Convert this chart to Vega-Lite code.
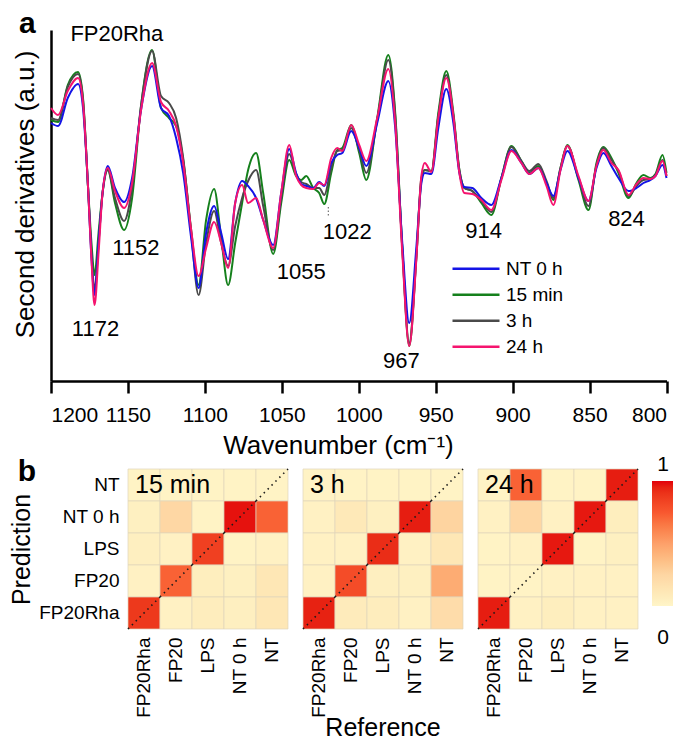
{
  "$schema": "https://vega.github.io/schema/vega-lite/v6.json",
  "padding": {"left": 9, "top": 8, "right": 0, "bottom": 0},
  "config": {
    "font": "Liberation Sans",
    "view": {"stroke": null},
    "axis": {"labelColor": "black", "titleColor": "black", "grid": false},
    "legend": {"labelColor": "black"},
    "header": {"titleColor": "black"},
    "title": {"color": "black"}
  },
  "columns": 1,
  "align": "none",
  "spacing": -1,
  "concat": [
    {
      "title": {"text": "a", "anchor": "start", "frame": "bounds", "fontSize": 30, "fontWeight": "bold", "dx": 7, "dy": 16, "offset": 0},
      "width": 538.5,
      "height": 351,
      "layer": [
        {
          "data": {"name": "spec"},
          "mark": {"type": "line", "interpolate": "monotone", "strokeWidth": 2},
          "encoding": {
            "x": {
              "field": "w", "type": "quantitative",
              "scale": {"domain": [1200, 800], "range": [-77, 538.5], "nice": false, "zero": false},
              "axis": {
                "title": "Wavenumber (cm⁻¹)",
                "values": [1200, 1175, 1150, 1125, 1100, 1075, 1050, 1025, 1000, 975, 950, 925, 900, 875, 850, 825, 800],
                "format": "d",
                "labelExpr": "datum.value % 50 === 0 ? datum.label : ''",
                "labelOverlap": false,
                "tickSize": 12, "tickWidth": 2.5, "tickColor": "black",
                "domainColor": "black", "domainWidth": 2.5,
                "labelFontSize": 21, "labelPadding": 11,
                "titleFontSize": 26, "titleFontWeight": "normal", "titlePadding": 7, "titleX": 210,
                "encode": {
                  "ticks": {"update": {"y2": {"signal": "datum.value % 50 === 0 ? 12 : 6"}}},
                  "labels": {"update": {"align": {"signal": "datum.value === 800 ? 'right' : 'center'"}, "dx": {"signal": "datum.value === 800 ? 7 : 0"}}}
                }
              }
            },
            "y": {
              "field": "v", "type": "quantitative",
              "scale": {"domain": [-183, 168], "nice": false, "zero": false},
              "axis": {
                "title": "Second derivatives (a.u.)",
                "labels": false, "ticks": false, "grid": false, "offset": 77,
                "domainColor": "black", "domainWidth": 2.5,
                "titleFontSize": 26, "titleFontWeight": "normal", "titlePadding": 13, "titleY": 164
              }
            },
            "color": {
              "field": "s", "type": "nominal",
              "scale": {"domain": ["NT 0 h", "15 min", "3 h", "24 h"], "range": ["#1414e6", "#15801c", "#4a4a4a", "#f5146e"]},
              "legend": {
                "orient": "none", "legendX": 323, "legendY": 227, "title": null,
                "symbolType": "stroke", "symbolSize": 2209, "symbolStrokeWidth": 2.5,
                "clipHeight": 23.5, "rowPadding": 2, "labelFontSize": 19, "labelOffset": 5, "padding": 0
              }
            }
          }
        },
        {
          "data": {"name": "ann"},
          "mark": {"type": "text", "fontSize": 22, "baseline": "middle", "align": "center", "color": "black"},
          "encoding": {
            "x": {"field": "w", "type": "quantitative"},
            "y": {"field": "v", "type": "quantitative"},
            "text": {"field": "t"}
          }
        },
        {
          "data": {"name": "tickmark"},
          "mark": {"type": "rule", "strokeDash": [1.5, 2], "color": "#555555", "strokeWidth": 1},
          "encoding": {
            "x": {"field": "w", "type": "quantitative"},
            "y": {"field": "v1", "type": "quantitative"},
            "y2": {"field": "v2"}
          }
        }
      ]
    },
    {
      "title": {"text": "b", "anchor": "start", "frame": "bounds", "fontSize": 30, "fontWeight": "bold", "dx": 8, "dy": 19, "offset": 0},
      "data": {"name": "conf"},
      "facet": {
        "column": {
          "field": "time", "type": "nominal", "sort": ["15 min", "3 h", "24 h"], "title": "Reference",
          "header": {"labels": false, "titleOrient": "bottom", "titleFontSize": 25, "titleFontWeight": "normal", "titlePadding": -12}
        }
      },
      "spacing": 13,
      "spec": {
        "width": 160,
        "height": 160,
        "layer": [
          {
            "mark": {"type": "rect", "stroke": "#e0d6bc", "strokeWidth": 0.7},
            "encoding": {
              "x": {
                "field": "reference", "type": "nominal",
                "scale": {"domain": ["FP20Rha", "FP20", "LPS", "NT 0 h", "NT"], "padding": 0},
                "axis": {"title": null, "labelAngle": -90, "labelFontSize": 19, "ticks": false, "domain": false, "labelPadding": 7}
              },
              "y": {
                "field": "prediction", "type": "nominal",
                "scale": {"domain": ["NT", "NT 0 h", "LPS", "FP20", "FP20Rha"], "padding": 0},
                "axis": {"title": "Prediction", "titleFontSize": 25, "titleFontWeight": "normal", "labelFontSize": 19, "ticks": false, "domain": false, "labelPadding": 8, "titlePadding": 4}
              },
              "color": {
                "field": "value", "type": "quantitative",
                "scale": {"domain": [0, 0.25, 0.5, 0.75, 1], "range": ["#fff5c8", "#fed6a3", "#fda06a", "#f8572f", "#e3000b"]},
                "legend": {
                  "title": null, "orient": "right", "offset": 13, "padding": 0,
                  "gradientLength": 125, "gradientThickness": 22, "gradientStrokeWidth": 0,
                  "values": [0, 1], "format": "d", "labelFontSize": 21, "labelOffset": -11, "labelOverlap": false,
                  "encode": {
                    "gradient": {"update": {"y": {"value": 12}}},
                    "labels": {"update": {
                      "align": {"value": "center"},
                      "baseline": {"signal": "datum.value > 0.5 ? 'bottom' : 'top'"},
                      "dy": {"signal": "datum.value > 0.5 ? 6 : 33"}
                    }}
                  }
                }
              }
            }
          },
          {
            "transform": [{"filter": "datum.reference === datum.prediction"}],
            "mark": {"type": "rule", "strokeDash": [1.5, 4], "color": "#1a1a1a", "strokeWidth": 1.6},
            "encoding": {
              "x": {"field": "reference", "type": "nominal", "bandPosition": 0},
              "x2": {"field": "reference", "bandPosition": 1},
              "y": {"field": "prediction", "type": "nominal", "bandPosition": 1},
              "y2": {"field": "prediction", "bandPosition": 0}
            }
          },
          {
            "transform": [{"filter": "datum.reference === 'FP20Rha' && datum.prediction === 'NT'"}],
            "mark": {"type": "text", "align": "left", "baseline": "middle", "dx": 7, "fontSize": 25, "color": "black"},
            "encoding": {
              "x": {"field": "reference", "type": "nominal", "bandPosition": 0},
              "y": {"field": "prediction", "type": "nominal"},
              "text": {"field": "time"}
            }
          }
        ]
      }
    }
  ],
  "datasets": {
    "ann": [
      {"w": 1157.2, "v": 164.5, "t": "FP20Rha"},
      {"w": 1171.1, "v": -131, "t": "1172"},
      {"w": 1144.9, "v": -50, "t": "1152"},
      {"w": 1037.4, "v": -74, "t": "1055"},
      {"w": 1007.5, "v": -33.5, "t": "1022"},
      {"w": 972.3, "v": -162.5, "t": "967"},
      {"w": 918.9, "v": -33, "t": "914"},
      {"w": 826, "v": -21, "t": "824"}
    ],
    "tickmark": [{"w": 1019.8, "v1": -9, "v2": -18}],
    "conf": [
      {"time": "15 min", "prediction": "NT", "reference": "FP20Rha", "value": 0.02},
      {"time": "15 min", "prediction": "NT", "reference": "FP20", "value": 0.02},
      {"time": "15 min", "prediction": "NT", "reference": "LPS", "value": 0.02},
      {"time": "15 min", "prediction": "NT", "reference": "NT 0 h", "value": 0.02},
      {"time": "15 min", "prediction": "NT", "reference": "NT", "value": 0.02},
      {"time": "15 min", "prediction": "NT 0 h", "reference": "FP20Rha", "value": 0.04},
      {"time": "15 min", "prediction": "NT 0 h", "reference": "FP20", "value": 0.24},
      {"time": "15 min", "prediction": "NT 0 h", "reference": "LPS", "value": 0.02},
      {"time": "15 min", "prediction": "NT 0 h", "reference": "NT 0 h", "value": 0.98},
      {"time": "15 min", "prediction": "NT 0 h", "reference": "NT", "value": 0.72},
      {"time": "15 min", "prediction": "LPS", "reference": "FP20Rha", "value": 0.05},
      {"time": "15 min", "prediction": "LPS", "reference": "FP20", "value": 0.03},
      {"time": "15 min", "prediction": "LPS", "reference": "LPS", "value": 0.85},
      {"time": "15 min", "prediction": "LPS", "reference": "NT 0 h", "value": 0.02},
      {"time": "15 min", "prediction": "LPS", "reference": "NT", "value": 0.03},
      {"time": "15 min", "prediction": "FP20", "reference": "FP20Rha", "value": 0.03},
      {"time": "15 min", "prediction": "FP20", "reference": "FP20", "value": 0.72},
      {"time": "15 min", "prediction": "FP20", "reference": "LPS", "value": 0.06},
      {"time": "15 min", "prediction": "FP20", "reference": "NT 0 h", "value": 0.04},
      {"time": "15 min", "prediction": "FP20", "reference": "NT", "value": 0.12},
      {"time": "15 min", "prediction": "FP20Rha", "reference": "FP20Rha", "value": 0.88},
      {"time": "15 min", "prediction": "FP20Rha", "reference": "FP20", "value": 0.03},
      {"time": "15 min", "prediction": "FP20Rha", "reference": "LPS", "value": 0.07},
      {"time": "15 min", "prediction": "FP20Rha", "reference": "NT 0 h", "value": 0.05},
      {"time": "15 min", "prediction": "FP20Rha", "reference": "NT", "value": 0.12},
      {"time": "3 h", "prediction": "NT", "reference": "FP20Rha", "value": 0.02},
      {"time": "3 h", "prediction": "NT", "reference": "FP20", "value": 0.02},
      {"time": "3 h", "prediction": "NT", "reference": "LPS", "value": 0.02},
      {"time": "3 h", "prediction": "NT", "reference": "NT 0 h", "value": 0.02},
      {"time": "3 h", "prediction": "NT", "reference": "NT", "value": 0.02},
      {"time": "3 h", "prediction": "NT 0 h", "reference": "FP20Rha", "value": 0.03},
      {"time": "3 h", "prediction": "NT 0 h", "reference": "FP20", "value": 0.1},
      {"time": "3 h", "prediction": "NT 0 h", "reference": "LPS", "value": 0.04},
      {"time": "3 h", "prediction": "NT 0 h", "reference": "NT 0 h", "value": 0.96},
      {"time": "3 h", "prediction": "NT 0 h", "reference": "NT", "value": 0.26},
      {"time": "3 h", "prediction": "LPS", "reference": "FP20Rha", "value": 0.03},
      {"time": "3 h", "prediction": "LPS", "reference": "FP20", "value": 0.03},
      {"time": "3 h", "prediction": "LPS", "reference": "LPS", "value": 0.92},
      {"time": "3 h", "prediction": "LPS", "reference": "NT 0 h", "value": 0.03},
      {"time": "3 h", "prediction": "LPS", "reference": "NT", "value": 0.12},
      {"time": "3 h", "prediction": "FP20", "reference": "FP20Rha", "value": 0.03},
      {"time": "3 h", "prediction": "FP20", "reference": "FP20", "value": 0.8},
      {"time": "3 h", "prediction": "FP20", "reference": "LPS", "value": 0.05},
      {"time": "3 h", "prediction": "FP20", "reference": "NT 0 h", "value": 0.04},
      {"time": "3 h", "prediction": "FP20", "reference": "NT", "value": 0.45},
      {"time": "3 h", "prediction": "FP20Rha", "reference": "FP20Rha", "value": 0.95},
      {"time": "3 h", "prediction": "FP20Rha", "reference": "FP20", "value": 0.08},
      {"time": "3 h", "prediction": "FP20Rha", "reference": "LPS", "value": 0.07},
      {"time": "3 h", "prediction": "FP20Rha", "reference": "NT 0 h", "value": 0.03},
      {"time": "3 h", "prediction": "FP20Rha", "reference": "NT", "value": 0.2},
      {"time": "24 h", "prediction": "NT", "reference": "FP20Rha", "value": 0.02},
      {"time": "24 h", "prediction": "NT", "reference": "FP20", "value": 0.72},
      {"time": "24 h", "prediction": "NT", "reference": "LPS", "value": 0.02},
      {"time": "24 h", "prediction": "NT", "reference": "NT 0 h", "value": 0.02},
      {"time": "24 h", "prediction": "NT", "reference": "NT", "value": 0.96},
      {"time": "24 h", "prediction": "NT 0 h", "reference": "FP20Rha", "value": 0.03},
      {"time": "24 h", "prediction": "NT 0 h", "reference": "FP20", "value": 0.24},
      {"time": "24 h", "prediction": "NT 0 h", "reference": "LPS", "value": 0.03},
      {"time": "24 h", "prediction": "NT 0 h", "reference": "NT 0 h", "value": 0.97},
      {"time": "24 h", "prediction": "NT 0 h", "reference": "NT", "value": 0.06},
      {"time": "24 h", "prediction": "LPS", "reference": "FP20Rha", "value": 0.02},
      {"time": "24 h", "prediction": "LPS", "reference": "FP20", "value": 0.03},
      {"time": "24 h", "prediction": "LPS", "reference": "LPS", "value": 0.97},
      {"time": "24 h", "prediction": "LPS", "reference": "NT 0 h", "value": 0.02},
      {"time": "24 h", "prediction": "LPS", "reference": "NT", "value": 0.04},
      {"time": "24 h", "prediction": "FP20", "reference": "FP20Rha", "value": 0.02},
      {"time": "24 h", "prediction": "FP20", "reference": "FP20", "value": 0.02},
      {"time": "24 h", "prediction": "FP20", "reference": "LPS", "value": 0.03},
      {"time": "24 h", "prediction": "FP20", "reference": "NT 0 h", "value": 0.03},
      {"time": "24 h", "prediction": "FP20", "reference": "NT", "value": 0.03},
      {"time": "24 h", "prediction": "FP20Rha", "reference": "FP20Rha", "value": 0.96},
      {"time": "24 h", "prediction": "FP20Rha", "reference": "FP20", "value": 0.03},
      {"time": "24 h", "prediction": "FP20Rha", "reference": "LPS", "value": 0.06},
      {"time": "24 h", "prediction": "FP20Rha", "reference": "NT 0 h", "value": 0.03},
      {"time": "24 h", "prediction": "FP20Rha", "reference": "NT", "value": 0.03}
    ],
    "spec": [
      {"w":1200,"s":"15 min","v":78},{"w":1195.4,"s":"15 min","v":76},{"w":1189.1,"s":"15 min","v":113},{"w":1182.4,"s":"15 min","v":126},{"w":1179.2,"s":"15 min","v":100},{"w":1175.9,"s":"15 min","v":10},{"w":1173.7,"s":"15 min","v":-45},{"w":1171.7,"s":"15 min","v":-77},{"w":1169.1,"s":"15 min","v":-35},{"w":1166.5,"s":"15 min","v":5},{"w":1163.1,"s":"15 min","v":28},{"w":1158.4,"s":"15 min","v":-5},{"w":1152.5,"s":"15 min","v":-32},{"w":1147.3,"s":"15 min","v":0},{"w":1141.5,"s":"15 min","v":92},{"w":1134.3,"s":"15 min","v":148},{"w":1128.5,"s":"15 min","v":90},{"w":1123.3,"s":"15 min","v":80},{"w":1118.7,"s":"15 min","v":72},{"w":1114.1,"s":"15 min","v":38},{"w":1108.9,"s":"15 min","v":-32},{"w":1104.1,"s":"15 min","v":-87},{"w":1099.2,"s":"15 min","v":-22},{"w":1094,"s":"15 min","v":9},{"w":1089.4,"s":"15 min","v":-40},{"w":1084.9,"s":"15 min","v":-87},{"w":1080.3,"s":"15 min","v":-45},{"w":1075.8,"s":"15 min","v":-5},{"w":1071.9,"s":"15 min","v":28},{"w":1066.7,"s":"15 min","v":45},{"w":1062.1,"s":"15 min","v":5},{"w":1055.6,"s":"15 min","v":-56},{"w":1050.4,"s":"15 min","v":-5},{"w":1045.2,"s":"15 min","v":38},{"w":1040.7,"s":"15 min","v":22},{"w":1037.4,"s":"15 min","v":18},{"w":1034.1,"s":"15 min","v":22},{"w":1029.6,"s":"15 min","v":10},{"w":1025.7,"s":"15 min","v":5},{"w":1022.4,"s":"15 min","v":-6},{"w":1017.9,"s":"15 min","v":25},{"w":1014,"s":"15 min","v":48},{"w":1010.7,"s":"15 min","v":50},{"w":1004.9,"s":"15 min","v":73},{"w":999.7,"s":"15 min","v":45},{"w":995.1,"s":"15 min","v":18},{"w":988,"s":"15 min","v":80},{"w":980.8,"s":"15 min","v":143},{"w":976.3,"s":"15 min","v":85},{"w":971.7,"s":"15 min","v":-50},{"w":967.2,"s":"15 min","v":-148},{"w":962.6,"s":"15 min","v":-60},{"w":959.3,"s":"15 min","v":20},{"w":957.1,"s":"15 min","v":28},{"w":952.8,"s":"15 min","v":27},{"w":948.3,"s":"15 min","v":85},{"w":943.1,"s":"15 min","v":127},{"w":938.5,"s":"15 min","v":85},{"w":934.6,"s":"15 min","v":28},{"w":931.4,"s":"15 min","v":10},{"w":926.2,"s":"15 min","v":7},{"w":920.3,"s":"15 min","v":-5},{"w":913.8,"s":"15 min","v":-17},{"w":907.3,"s":"15 min","v":20},{"w":900.8,"s":"15 min","v":52},{"w":894.3,"s":"15 min","v":37},{"w":889.1,"s":"15 min","v":25},{"w":883.3,"s":"15 min","v":32},{"w":878,"s":"15 min","v":15},{"w":873.5,"s":"15 min","v":-2},{"w":868.9,"s":"15 min","v":30},{"w":864.4,"s":"15 min","v":53},{"w":857.2,"s":"15 min","v":18},{"w":850.7,"s":"15 min","v":-12},{"w":845.5,"s":"15 min","v":35},{"w":841,"s":"15 min","v":51},{"w":835.8,"s":"15 min","v":40},{"w":831.2,"s":"15 min","v":25},{"w":824.7,"s":"15 min","v":0},{"w":819.5,"s":"15 min","v":15},{"w":815,"s":"15 min","v":23},{"w":810.4,"s":"15 min","v":20},{"w":807.2,"s":"15 min","v":24},{"w":802.6,"s":"15 min","v":43},{"w":800,"s":"15 min","v":25},
      {"w":1200,"s":"3 h","v":80},{"w":1195.4,"s":"3 h","v":78},{"w":1189.1,"s":"3 h","v":111},{"w":1182.4,"s":"3 h","v":124},{"w":1179.2,"s":"3 h","v":98},{"w":1175.9,"s":"3 h","v":10},{"w":1173.7,"s":"3 h","v":-55},{"w":1171.7,"s":"3 h","v":-92},{"w":1169.1,"s":"3 h","v":-45},{"w":1166.5,"s":"3 h","v":5},{"w":1163.1,"s":"3 h","v":28},{"w":1158.4,"s":"3 h","v":0},{"w":1152.5,"s":"3 h","v":-23},{"w":1147.3,"s":"3 h","v":10},{"w":1141.5,"s":"3 h","v":92},{"w":1134.3,"s":"3 h","v":147},{"w":1128.5,"s":"3 h","v":102},{"w":1123.3,"s":"3 h","v":95},{"w":1118.7,"s":"3 h","v":80},{"w":1114.1,"s":"3 h","v":40},{"w":1108.9,"s":"3 h","v":-35},{"w":1104.1,"s":"3 h","v":-97},{"w":1099.2,"s":"3 h","v":-45},{"w":1094,"s":"3 h","v":-13},{"w":1089.4,"s":"3 h","v":-45},{"w":1084.9,"s":"3 h","v":-68},{"w":1080.3,"s":"3 h","v":-28},{"w":1075.8,"s":"3 h","v":0},{"w":1071.9,"s":"3 h","v":17},{"w":1066.7,"s":"3 h","v":28},{"w":1062.1,"s":"3 h","v":-8},{"w":1055.6,"s":"3 h","v":-52},{"w":1050.4,"s":"3 h","v":0},{"w":1045.2,"s":"3 h","v":44},{"w":1040.7,"s":"3 h","v":24},{"w":1037.4,"s":"3 h","v":16},{"w":1034.1,"s":"3 h","v":14},{"w":1029.6,"s":"3 h","v":10},{"w":1025.7,"s":"3 h","v":10},{"w":1022.4,"s":"3 h","v":3},{"w":1017.9,"s":"3 h","v":30},{"w":1014,"s":"3 h","v":47},{"w":1010.7,"s":"3 h","v":48},{"w":1004.9,"s":"3 h","v":70},{"w":999.7,"s":"3 h","v":48},{"w":995.1,"s":"3 h","v":25},{"w":988,"s":"3 h","v":78},{"w":980.8,"s":"3 h","v":138},{"w":976.3,"s":"3 h","v":82},{"w":971.7,"s":"3 h","v":-50},{"w":967.2,"s":"3 h","v":-145},{"w":962.6,"s":"3 h","v":-60},{"w":959.3,"s":"3 h","v":18},{"w":957.1,"s":"3 h","v":28},{"w":952.8,"s":"3 h","v":27},{"w":948.3,"s":"3 h","v":82},{"w":943.1,"s":"3 h","v":123},{"w":938.5,"s":"3 h","v":82},{"w":934.6,"s":"3 h","v":28},{"w":931.4,"s":"3 h","v":10},{"w":926.2,"s":"3 h","v":7},{"w":920.3,"s":"3 h","v":-3},{"w":913.8,"s":"3 h","v":-14},{"w":907.3,"s":"3 h","v":20},{"w":900.8,"s":"3 h","v":51},{"w":894.3,"s":"3 h","v":37},{"w":889.1,"s":"3 h","v":27},{"w":883.3,"s":"3 h","v":34},{"w":878,"s":"3 h","v":17},{"w":873.5,"s":"3 h","v":0},{"w":868.9,"s":"3 h","v":30},{"w":864.4,"s":"3 h","v":52},{"w":857.2,"s":"3 h","v":20},{"w":850.7,"s":"3 h","v":-8},{"w":845.5,"s":"3 h","v":33},{"w":841,"s":"3 h","v":50},{"w":835.8,"s":"3 h","v":38},{"w":831.2,"s":"3 h","v":27},{"w":824.7,"s":"3 h","v":2},{"w":819.5,"s":"3 h","v":12},{"w":815,"s":"3 h","v":18},{"w":810.4,"s":"3 h","v":19},{"w":807.2,"s":"3 h","v":23},{"w":802.6,"s":"3 h","v":38},{"w":800,"s":"3 h","v":22},
      {"w":1200,"s":"NT 0 h","v":75},{"w":1195.4,"s":"NT 0 h","v":72},{"w":1189.1,"s":"NT 0 h","v":100},{"w":1182.4,"s":"NT 0 h","v":114},{"w":1179.2,"s":"NT 0 h","v":90},{"w":1175.9,"s":"NT 0 h","v":10},{"w":1173.7,"s":"NT 0 h","v":-60},{"w":1171.7,"s":"NT 0 h","v":-97},{"w":1169.1,"s":"NT 0 h","v":-45},{"w":1166.5,"s":"NT 0 h","v":5},{"w":1163.1,"s":"NT 0 h","v":32},{"w":1158.4,"s":"NT 0 h","v":10},{"w":1152.5,"s":"NT 0 h","v":-4},{"w":1147.3,"s":"NT 0 h","v":20},{"w":1141.5,"s":"NT 0 h","v":88},{"w":1134.3,"s":"NT 0 h","v":132},{"w":1128.5,"s":"NT 0 h","v":90},{"w":1123.3,"s":"NT 0 h","v":82},{"w":1118.7,"s":"NT 0 h","v":60},{"w":1114.1,"s":"NT 0 h","v":25},{"w":1108.9,"s":"NT 0 h","v":-40},{"w":1104.1,"s":"NT 0 h","v":-90},{"w":1099.2,"s":"NT 0 h","v":-35},{"w":1094,"s":"NT 0 h","v":-8},{"w":1089.4,"s":"NT 0 h","v":-35},{"w":1084.9,"s":"NT 0 h","v":-61},{"w":1080.3,"s":"NT 0 h","v":-5},{"w":1075.8,"s":"NT 0 h","v":17},{"w":1071.9,"s":"NT 0 h","v":12},{"w":1066.7,"s":"NT 0 h","v":0},{"w":1062.1,"s":"NT 0 h","v":-22},{"w":1055.6,"s":"NT 0 h","v":-47},{"w":1050.4,"s":"NT 0 h","v":5},{"w":1045.2,"s":"NT 0 h","v":49},{"w":1040.7,"s":"NT 0 h","v":25},{"w":1037.4,"s":"NT 0 h","v":14},{"w":1034.1,"s":"NT 0 h","v":12},{"w":1029.6,"s":"NT 0 h","v":10},{"w":1025.7,"s":"NT 0 h","v":16},{"w":1022.4,"s":"NT 0 h","v":12},{"w":1017.9,"s":"NT 0 h","v":35},{"w":1014,"s":"NT 0 h","v":43},{"w":1010.7,"s":"NT 0 h","v":45},{"w":1004.9,"s":"NT 0 h","v":67},{"w":999.7,"s":"NT 0 h","v":50},{"w":995.1,"s":"NT 0 h","v":32},{"w":988,"s":"NT 0 h","v":75},{"w":980.8,"s":"NT 0 h","v":117},{"w":976.3,"s":"NT 0 h","v":70},{"w":971.7,"s":"NT 0 h","v":-45},{"w":967.2,"s":"NT 0 h","v":-125},{"w":962.6,"s":"NT 0 h","v":-50},{"w":959.3,"s":"NT 0 h","v":15},{"w":957.1,"s":"NT 0 h","v":25},{"w":952.8,"s":"NT 0 h","v":24},{"w":948.3,"s":"NT 0 h","v":70},{"w":943.1,"s":"NT 0 h","v":109},{"w":938.5,"s":"NT 0 h","v":75},{"w":934.6,"s":"NT 0 h","v":25},{"w":931.4,"s":"NT 0 h","v":11},{"w":926.2,"s":"NT 0 h","v":10},{"w":920.3,"s":"NT 0 h","v":0},{"w":913.8,"s":"NT 0 h","v":-7},{"w":907.3,"s":"NT 0 h","v":20},{"w":900.8,"s":"NT 0 h","v":48},{"w":894.3,"s":"NT 0 h","v":35},{"w":889.1,"s":"NT 0 h","v":24},{"w":883.3,"s":"NT 0 h","v":30},{"w":878,"s":"NT 0 h","v":15},{"w":873.5,"s":"NT 0 h","v":2},{"w":868.9,"s":"NT 0 h","v":28},{"w":864.4,"s":"NT 0 h","v":47},{"w":857.2,"s":"NT 0 h","v":20},{"w":850.7,"s":"NT 0 h","v":-3},{"w":845.5,"s":"NT 0 h","v":30},{"w":841,"s":"NT 0 h","v":45},{"w":835.8,"s":"NT 0 h","v":32},{"w":831.2,"s":"NT 0 h","v":20},{"w":824.7,"s":"NT 0 h","v":7},{"w":819.5,"s":"NT 0 h","v":10},{"w":815,"s":"NT 0 h","v":15},{"w":810.4,"s":"NT 0 h","v":18},{"w":807.2,"s":"NT 0 h","v":22},{"w":802.6,"s":"NT 0 h","v":33},{"w":800,"s":"NT 0 h","v":20},
      {"w":1200,"s":"24 h","v":90},{"w":1195.4,"s":"24 h","v":83},{"w":1189.1,"s":"24 h","v":107},{"w":1182.4,"s":"24 h","v":120},{"w":1179.2,"s":"24 h","v":95},{"w":1175.9,"s":"24 h","v":10},{"w":1173.7,"s":"24 h","v":-62},{"w":1171.7,"s":"24 h","v":-107},{"w":1169.1,"s":"24 h","v":-55},{"w":1166.5,"s":"24 h","v":5},{"w":1163.1,"s":"24 h","v":30},{"w":1158.4,"s":"24 h","v":7},{"w":1152.5,"s":"24 h","v":-10},{"w":1147.3,"s":"24 h","v":15},{"w":1141.5,"s":"24 h","v":88},{"w":1134.3,"s":"24 h","v":135},{"w":1128.5,"s":"24 h","v":96},{"w":1123.3,"s":"24 h","v":87},{"w":1118.7,"s":"24 h","v":72},{"w":1114.1,"s":"24 h","v":35},{"w":1108.9,"s":"24 h","v":-32},{"w":1104.1,"s":"24 h","v":-78},{"w":1099.2,"s":"24 h","v":-50},{"w":1094,"s":"24 h","v":-24},{"w":1089.4,"s":"24 h","v":-45},{"w":1084.9,"s":"24 h","v":-70},{"w":1080.3,"s":"24 h","v":-5},{"w":1075.8,"s":"24 h","v":13},{"w":1071.9,"s":"24 h","v":-5},{"w":1066.7,"s":"24 h","v":0},{"w":1062.1,"s":"24 h","v":-22},{"w":1055.6,"s":"24 h","v":-50},{"w":1050.4,"s":"24 h","v":5},{"w":1045.2,"s":"24 h","v":53},{"w":1040.7,"s":"24 h","v":22},{"w":1037.4,"s":"24 h","v":13},{"w":1034.1,"s":"24 h","v":10},{"w":1029.6,"s":"24 h","v":9},{"w":1025.7,"s":"24 h","v":15},{"w":1022.4,"s":"24 h","v":13},{"w":1017.9,"s":"24 h","v":40},{"w":1014,"s":"24 h","v":50},{"w":1010.7,"s":"24 h","v":47},{"w":1004.9,"s":"24 h","v":73},{"w":999.7,"s":"24 h","v":53},{"w":995.1,"s":"24 h","v":37},{"w":988,"s":"24 h","v":80},{"w":980.8,"s":"24 h","v":129},{"w":976.3,"s":"24 h","v":75},{"w":971.7,"s":"24 h","v":-55},{"w":967.2,"s":"24 h","v":-148},{"w":962.6,"s":"24 h","v":-62},{"w":959.3,"s":"24 h","v":22},{"w":957.1,"s":"24 h","v":35},{"w":952.8,"s":"24 h","v":26},{"w":948.3,"s":"24 h","v":80},{"w":943.1,"s":"24 h","v":120},{"w":938.5,"s":"24 h","v":82},{"w":934.6,"s":"24 h","v":25},{"w":931.4,"s":"24 h","v":5},{"w":926.2,"s":"24 h","v":4},{"w":920.3,"s":"24 h","v":-2},{"w":913.8,"s":"24 h","v":-12},{"w":907.3,"s":"24 h","v":18},{"w":900.8,"s":"24 h","v":47},{"w":894.3,"s":"24 h","v":35},{"w":889.1,"s":"24 h","v":24},{"w":883.3,"s":"24 h","v":30},{"w":878,"s":"24 h","v":12},{"w":873.5,"s":"24 h","v":-7},{"w":868.9,"s":"24 h","v":28},{"w":864.4,"s":"24 h","v":52},{"w":857.2,"s":"24 h","v":22},{"w":850.7,"s":"24 h","v":-3},{"w":845.5,"s":"24 h","v":32},{"w":841,"s":"24 h","v":48},{"w":835.8,"s":"24 h","v":35},{"w":831.2,"s":"24 h","v":28},{"w":824.7,"s":"24 h","v":3},{"w":819.5,"s":"24 h","v":14},{"w":815,"s":"24 h","v":20},{"w":810.4,"s":"24 h","v":19},{"w":807.2,"s":"24 h","v":22},{"w":802.6,"s":"24 h","v":37},{"w":800,"s":"24 h","v":22}
    ]
  }
}
